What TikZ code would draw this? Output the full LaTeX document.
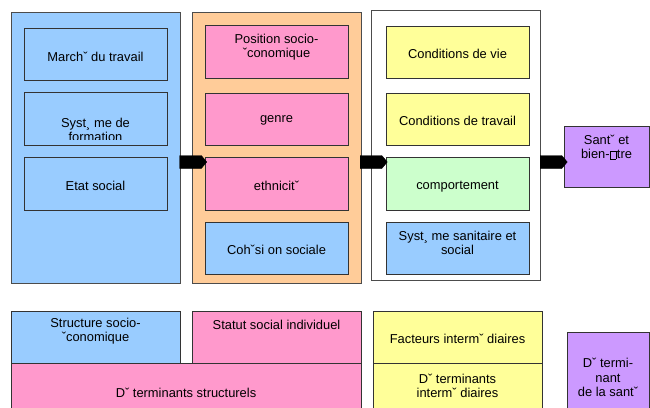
\documentclass[tikz,border=0pt]{standalone}
\usepackage{fontspec}
\setmainfont{Liberation Sans}
\usetikzlibrary{shapes.arrows}

\definecolor{cblue}{HTML}{99CCFF}
\definecolor{corange}{HTML}{FFCC99}
\definecolor{cpink}{HTML}{FF99CC}
\definecolor{cyellow}{HTML}{FFFF99}
\definecolor{cgreen}{HTML}{CCFFCC}
\definecolor{cpurple}{HTML}{CC99FF}

% small empty box standing in for a missing glyph
\newcommand\missingglyph{\hspace{0.05em}{\setlength\fboxsep{0pt}\setlength\fboxrule{0.4pt}\fbox{\rule{0pt}{0.6em}\hspace{0.4em}}}\hspace{0.05em}}

\tikzset{
  panel/.style={draw=black!70, line width=0.9pt},
  box/.style={draw=black!80, line width=0.9pt},
  lbl/.style={inner sep=0pt, align=center, font=\fontsize{12.9}{14.3}\selectfont, text=black},
  fatarrow/.style={single arrow, fill=black, draw=black, inner sep=0pt,
    single arrow head extend=0pt, single arrow tip angle=100,
    minimum width=13pt, minimum height=27pt},
}

\begin{document}
\begin{tikzpicture}[x=1pt,y=-1pt]
\useasboundingbox (0,0) rectangle (650,407);
\clip (0,0) rectangle (650,407);

% ---- three columns of factors ----
\filldraw[panel, fill=cblue] (11,12) rectangle (180,283);
\filldraw[panel, fill=corange] (192,12) rectangle (361,283);
\filldraw[panel, fill=white] (371,10) rectangle (540,280);

% structural, left column
\filldraw[box, fill=cblue] (24,28) rectangle (167,80);
\filldraw[box, fill=cblue] (24,92) rectangle (167,145);
\filldraw[box, fill=cblue] (24,157) rectangle (167,210);
\node[lbl] (marche) at (95.5,56.5) {Marchˇ du travail};
\begin{scope}
  % the second line runs past the bottom of its box and is cut off
  \clip (24,92) rectangle (167,139.5);
  \node[lbl] (formation) at (95.5,130) {Syst¸ me de\\formation};
\end{scope}
\node[lbl] (etat) at (95.5,185.5) {Etat social};

% structural, middle column
\filldraw[box, fill=cpink] (205,25) rectangle (348,78);
\filldraw[box, fill=cpink] (205,93) rectangle (348,145);
\filldraw[box, fill=cpink] (205,157) rectangle (348,210);
\filldraw[box, fill=cblue] (205,222) rectangle (348,274);
\node[lbl] (position) at (276.5,47) {Position socio-\\ˇconomique};
\node[lbl] (genre) at (276.5,120.5) {genre};
\node[lbl] (ethnicite) at (276.5,185.5) {ethnicitˇ};
\node[lbl] (cohesion) at (276.5,249.5) {Cohˇsi on sociale};

% intermediary factors
\filldraw[box, fill=cyellow] (386,26) rectangle (529,78);
\filldraw[box, fill=cyellow] (386,93) rectangle (529,145);
\filldraw[box, fill=cgreen] (386,157) rectangle (529,210);
\filldraw[box, fill=cblue] (386,222) rectangle (529,274);
\node[lbl] (vie) at (457.5,53.5) {Conditions de vie};
\node[lbl] (travail) at (457.5,120.5) {Conditions de travail};
\node[lbl] (comportement) at (457.5,186.5) {comportement};
\node[lbl] (sanitaire) at (457.5,243) {Syst¸ me sanitaire et\\social};

% outcome
\filldraw[box, fill=cpurple] (564,126) rectangle (649,187);
\node[lbl] (sante) at (606.5,147) {Santˇ  et\\bien-\missingglyph tre};

% block arrows between the columns
\node[fatarrow] (arrowA) at (190.5,162) {};
\node[fatarrow] (arrowB) at (371,162) {};
\node[fatarrow] (arrowC) at (551,162) {};

% ---- legend ----
\filldraw[box, fill=cblue] (11,311) rectangle (180,363);
\filldraw[box, fill=cpink] (192,311) rectangle (361,363);
\filldraw[box, fill=cpink] (11,363) rectangle (361,420);
\filldraw[box, fill=cyellow] (373,311) rectangle (542,363);
\filldraw[box, fill=cyellow] (373,363) rectangle (542,420);
\filldraw[box, fill=cpurple] (567,332) rectangle (649,420);
\node[lbl] (structure) at (95.5,331.5) {Structure socio-\\ˇconomique};
\node[lbl] (statut) at (276.5,324.5) {Statut social individuel};
\node[lbl] (detstruct) at (186,392.5) {Dˇ terminants structurels};
\node[lbl] (facteurs) at (457.5,338.5) {Facteurs intermˇ diaires};
\node[lbl] (detinter) at (457.5,386) {Dˇ terminants\\intermˇ diaires};
\node[lbl] (detsante) at (608,377.5) {Dˇ termi-\\nant\\de la santˇ};
\end{tikzpicture}
\end{document}
